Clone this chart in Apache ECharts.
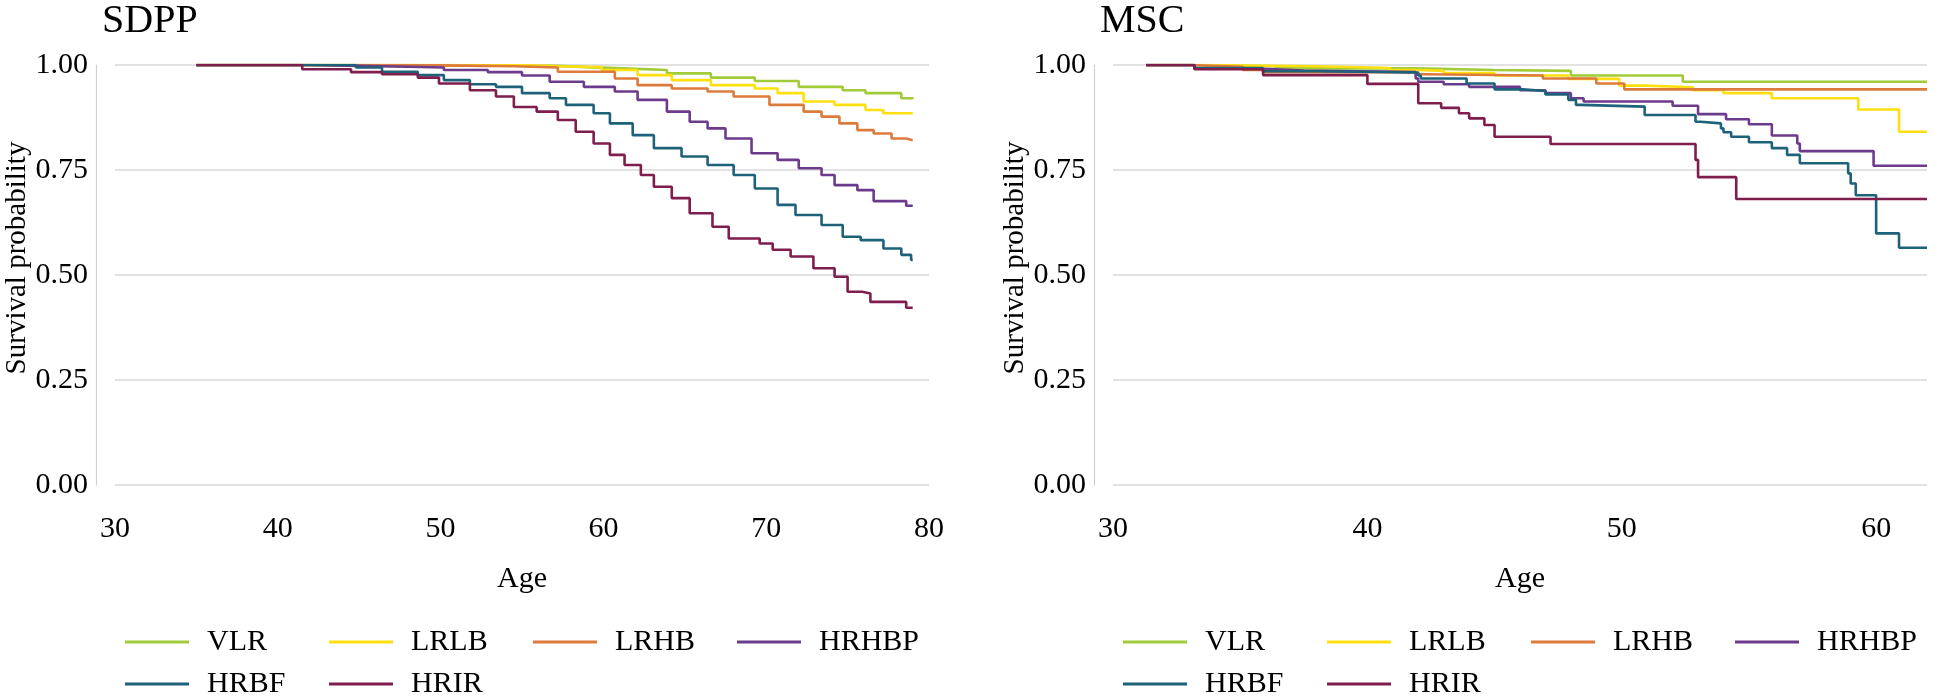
<!DOCTYPE html>
<html>
<head>
<meta charset="utf-8">
<script src="https://cdn.jsdelivr.net/npm/echarts@6/dist/echarts.min.js"></script>
<style>
html,body{margin:0;padding:0;background:#fff;}
#chart{width:1944px;height:697px;}
</style>
</head>
<body>
<div id="chart"></div>
<script>
// ---- Data (age, survival probability) ----
const groupNames = ['VLR', 'LRLB', 'LRHB', 'HRHBP', 'HRBF', 'HRIR'];
const groupColors = ['#a2cb3a', '#ffdf0f', '#dd7b3c', '#6d3b8c', '#1e6279', '#7f1d4d'];
const panelTitles = ['SDPP', 'MSC'];
const yTicks = [0, 0.25, 0.5, 0.75, 1];

// SDPP panel
const sdppVLR = [[35,1],[45,0.999],[52,0.998],[57.2,0.995],[59,0.992],[61.2,0.988],[63.9,0.980],[66.6,0.970],[69.3,0.962],[72,0.948],[74.7,0.940],[76.1,0.933],[78.3,0.921],[79,0.919]];
const sdppLRLB = [[35,1],[50,0.999],[55,0.997],[57.2,0.995],[59.9,0.988],[62.1,0.976],[64.2,0.964],[66.6,0.952],[69.3,0.944],[70.7,0.933],[72.3,0.913],[74.2,0.905],[76.1,0.893],[77.2,0.885],[79,0.885]];
const sdppLRHB = [[35,1],[45,0.999],[50,0.997],[54.5,0.994],[57.2,0.984],[60.7,0.968],[62.1,0.952],[64.2,0.944],[66.4,0.937],[68,0.925],[70.2,0.905],[72.3,0.889],[73.4,0.877],[74.5,0.861],[75.6,0.845],[76.6,0.837],[77.7,0.825],[78.6,0.821],[79,0.821]];
const sdppHRHBP = [[35,1],[42,0.998],[45,0.996],[48,0.994],[50.2,0.988],[52.9,0.983],[55,0.975],[56.7,0.960],[58.8,0.948],[60.7,0.937],[62.1,0.917],[63.9,0.889],[65.3,0.865],[66.4,0.849],[67.5,0.825],[69.1,0.790],[70.7,0.774],[72,0.754],[73.4,0.738],[74.2,0.714],[75.6,0.702],[76.6,0.676],[78.6,0.665],[79,0.665]];
const sdppHRBF = [[35,1],[44.8,0.994],[46.4,0.984],[48.6,0.976],[50.2,0.964],[51.8,0.954],[53.4,0.948],[55,0.933],[56.7,0.921],[57.7,0.905],[59.4,0.885],[60.4,0.861],[61.8,0.833],[63.1,0.802],[64.8,0.782],[66.4,0.762],[68,0.738],[69.3,0.706],[70.7,0.667],[71.8,0.643],[73.4,0.619],[74.7,0.591],[75.8,0.583],[77.2,0.563],[78.3,0.548],[78.9,0.536],[79,0.536]];
const sdppHRIR = [[35,1],[41.5,0.990],[44.5,0.983],[46.4,0.978],[48.6,0.970],[49.9,0.956],[51.8,0.940],[53.4,0.925],[54.5,0.900],[55.9,0.889],[57.2,0.869],[58.3,0.841],[59.4,0.813],[60.4,0.786],[61.3,0.762],[62.3,0.738],[63.1,0.710],[64.2,0.683],[65.3,0.647],[66.7,0.615],[67.7,0.587],[69.6,0.575],[70.4,0.560],[71.5,0.544],[72.9,0.516],[74.2,0.496],[75,0.460],[75.9,0.456],[76.4,0.436],[78.6,0.422],[79,0.422]];

// MSC panel
const mscVLR = [[31.3,1],[33,0.997],[36.4,0.992],[41.9,0.988],[45,0.986],[48,0.975],[52.4,0.960],[62,0.960]];
const mscLRLB = [[31.3,1],[33.5,0.997],[38,0.993],[40.9,0.988],[42,0.986],[43,0.981],[45,0.975],[47.9,0.967],[49.9,0.951],[50.9,0.947],[52.8,0.940],[54,0.933],[55.9,0.921],[59.3,0.894],[60.9,0.841],[62,0.841]];
const mscLRHB = [[31.3,1],[33,0.996],[35.1,0.988],[35.9,0.983],[41.9,0.978],[42.2,0.975],[46.9,0.968],[49,0.956],[50.1,0.942],[62,0.942]];
const mscHRHBP = [[31.3,1],[33.2,0.991],[35.9,0.987],[37.5,0.983],[41.9,0.968],[42,0.960],[43,0.954],[44,0.948],[46,0.940],[47,0.933],[48,0.921],[48.5,0.913],[52,0.903],[53,0.883],[54.1,0.871],[55,0.859],[55.9,0.832],[56.9,0.813],[57,0.795],[59.9,0.760],[62,0.760]];
const mscHRBF = [[31.3,1],[33.2,0.993],[35.9,0.985],[38,0.982],[42,0.975],[42.1,0.968],[43.9,0.956],[45,0.942],[46.1,0.938],[47,0.930],[47.9,0.917],[48.2,0.905],[48.4,0.901],[50.9,0.881],[52.9,0.865],[53.1,0.861],[53.9,0.849],[54,0.840],[54.3,0.829],[55,0.816],[55.9,0.802],[56.5,0.786],[57,0.766],[58.9,0.742],[59,0.718],[59.2,0.690],[60,0.599],[60.9,0.565],[62,0.565]];
const mscHRIR = [[31.3,1],[33.2,0.990],[35.9,0.976],[40,0.955],[42,0.909],[42.9,0.898],[43.6,0.885],[44,0.873],[44.6,0.857],[45,0.829],[47.2,0.812],[52.9,0.774],[53,0.733],[54.5,0.681],[62,0.681]];

const panelData = [
  [sdppVLR, sdppLRLB, sdppLRHB, sdppHRHBP, sdppHRBF, sdppHRIR],
  [mscVLR, mscLRLB, mscLRHB, mscHRHBP, mscHRBF, mscHRIR]
];
const xRanges = [[30, 80], [30, 62]];

// ---- Chart ----
const FONT = "'Liberation Serif', 'Times New Roman', serif";
const chart = echarts.init(document.getElementById('chart'), null, {renderer: 'canvas'});

const gridLefts = [115, 1113];

const series = [];
panelData.forEach((panel, p) => {
  panel.forEach((data, i) => {
    series.push({
      type: 'line',
      name: groupNames[i],
      xAxisIndex: p,
      yAxisIndex: p,
      data: data,
      step: 'end',
      symbol: 'none',
      color: groupColors[i],
      lineStyle: {width: 2.6, color: groupColors[i]},
      emphasis: {disabled: true},
      z: 2 + i
    });
  });
});

const option = {
  animation: false,
  backgroundColor: '#ffffff',
  textStyle: {fontFamily: FONT, color: '#000'},
  graphic: panelTitles.map((t, p) => ({
    type: 'text',
    left: gridLefts[p] - 13,
    top: 1,
    style: {text: t, font: '40px ' + FONT, fill: '#000'}
  })),
  grid: gridLefts.map(l => ({left: l, top: 65, width: 814, height: 420})),
  xAxis: xRanges.map((r, p) => ({
    type: 'value',
    gridIndex: p,
    min: r[0],
    max: r[1],
    interval: 10,
    name: 'Age',
    nameLocation: 'middle',
    nameGap: 79,
    nameTextStyle: {fontFamily: FONT, fontSize: 30, color: '#000'},
    axisLine: {show: false},
    axisTick: {show: false},
    splitLine: {show: false},
    axisLabel: {
      fontFamily: FONT, fontSize: 30, color: '#000', margin: 29,
      showMaxLabel: r[1] % 10 === 0,
      formatter: v => (v % 10 === 0 ? String(v) : '')
    }
  })),
  yAxis: [0, 1].map(p => ({
    type: 'value',
    gridIndex: p,
    min: yTicks[0],
    max: yTicks[yTicks.length - 1],
    interval: 0.25,
    offset: 19,
    name: 'Survival probability',
    nameLocation: 'middle',
    nameGap: 64,
    nameTextStyle: {fontFamily: FONT, fontSize: 29, color: '#000', padding: [0, 0, 0, 34]},
    axisLine: {show: true, lineStyle: {color: '#cfcfcf', width: 1.2}},
    axisTick: {show: false},
    splitLine: {show: true, lineStyle: {color: '#d9d9d9', width: 1.6}},
    axisLabel: {fontFamily: FONT, fontSize: 30, color: '#000', margin: 8, formatter: v => v.toFixed(2)}
  })),
  legend: gridLefts.map(l => ({
    left: l + 5,
    top: 621,
    width: 840,
    orient: 'horizontal',
    icon: 'rect',
    itemWidth: 64,
    itemHeight: 3,
    itemGap: 10,
    selectedMode: false,
    data: groupNames,
    textStyle: {fontFamily: FONT, fontSize: 30, color: '#000', width: 112, lineHeight: 32, padding: [0, 0, 0, 13]}
  })),
  series: series
};

chart.setOption(option);
</script>
</body>
</html>
